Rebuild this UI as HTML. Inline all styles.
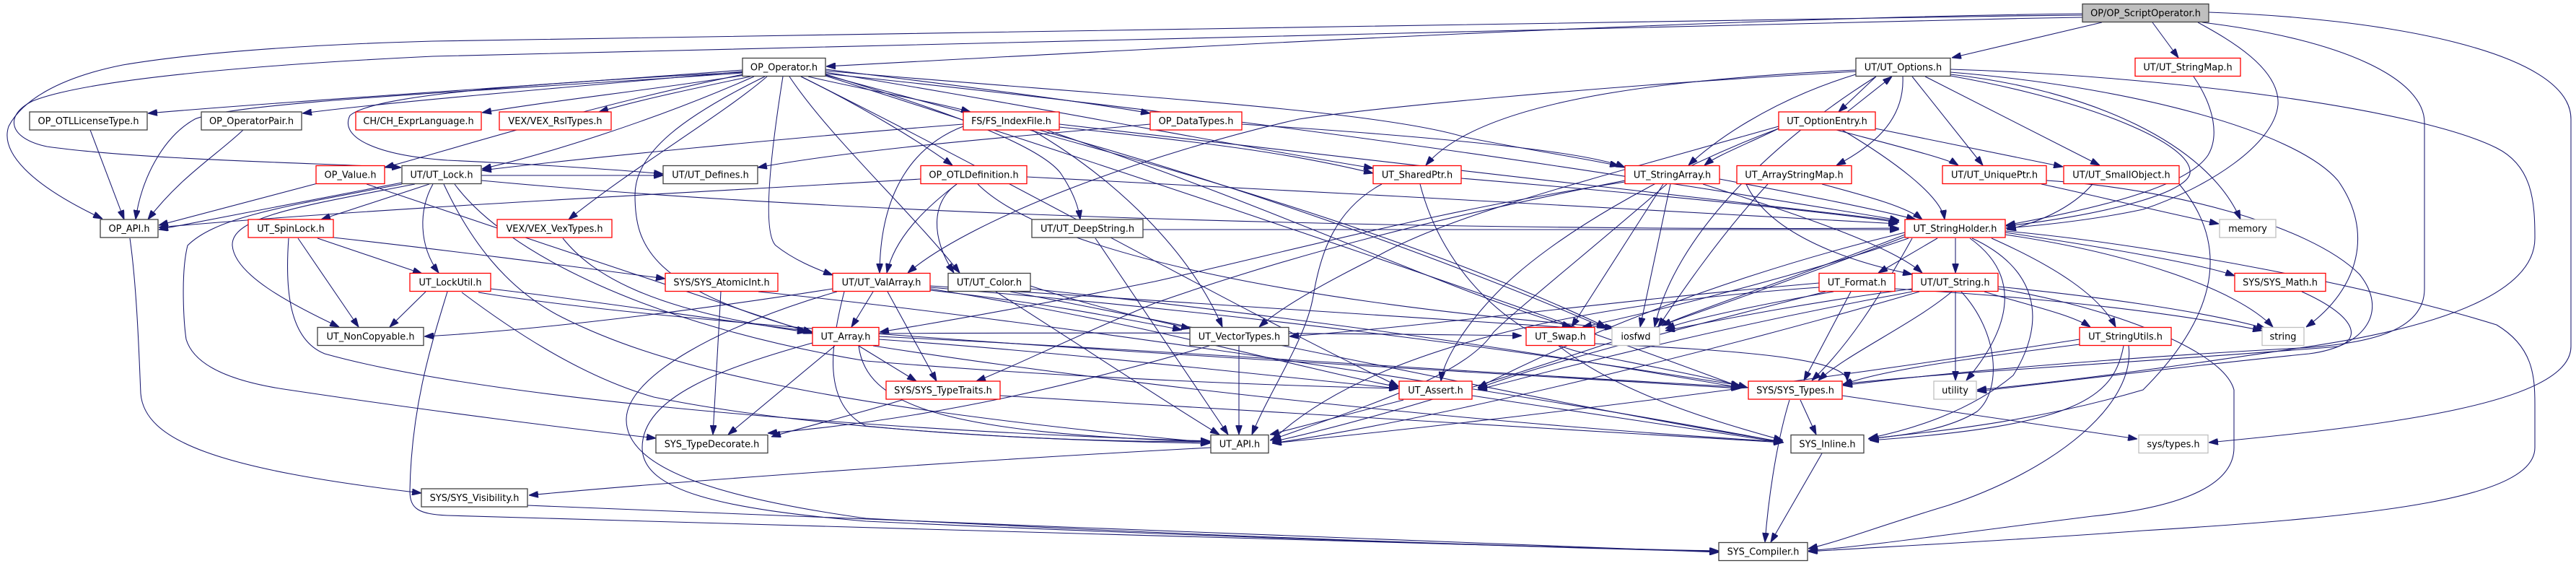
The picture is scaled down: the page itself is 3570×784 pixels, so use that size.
<!DOCTYPE html>
<html><head><meta charset="utf-8"><style>
html,body{margin:0;padding:0;background:#fff;}
svg{display:block;}
text{font-family:"DejaVu Sans","Liberation Sans",sans-serif;font-size:12.9px;fill:#000;text-anchor:middle;}
</style></head><body>
<svg width="3570" height="784" viewBox="0 0 3570 784" xmlns="http://www.w3.org/2000/svg">
<defs><marker id="a" viewBox="0 0 13 9" refX="13" refY="4.5" markerWidth="13" markerHeight="9" markerUnits="userSpaceOnUse" orient="auto"><path d="M0,0 L13,4.5 L0,9 z" fill="#191970" stroke="#191970" stroke-width="1"/></marker></defs>
<rect width="3570" height="784" fill="#fff"/>
<g fill="none" stroke="#191970" stroke-width="1.05" marker-end="url(#a)">
<!-- root -->
<path d="M2886,19 C2400,24 1700,62 1145,92"/>
<path d="M2913,31 L2705,80"/>
<path d="M2983,31 L3019,80"/>
<path d="M2886,21 C2000,30 1100,48 600,57 C350,64 230,80 170,90 C80,108 30,140 12,175 C0,210 40,255 142,303"/>
<path d="M2886,24 C2000,40 1100,62 600,78 C350,90 120,110 45,140 C5,160 12,192 65,203 C200,222 450,226 556,232"/>
<path d="M3046,31 C3090,55 3160,95 3157,145 C3152,200 3060,260 2970,290 C2900,305 2830,312 2780,316"/>
<path d="M3052,31 C3250,55 3360,110 3360,170 L3360,400 C3360,460 3280,478 3170,483 C2950,495 2700,515 2554,534"/>
<path d="M3061,17 C3300,25 3563,70 3563,165 L3563,480 C3563,560 3300,590 3061,613"/>
<!-- OP_Operator -->
<path d="M1029,97 C800,115 400,140 205,157"/>
<path d="M1029,99 C800,120 550,140 419,157"/>
<path d="M1032,104 C900,125 760,140 668,156"/>
<path d="M1040,106 C950,125 880,140 830,155"/>
<path d="M1030,103 C800,150 600,215 533,232"/>
<path d="M1045,106 C900,170 750,215 668,234"/>
<path d="M1029,100 C750,115 520,130 485,160 C470,190 520,215 620,222 C750,228 870,236 919,241"/>
<path d="M1029,101 C700,125 330,140 270,165 C225,190 195,250 188,304"/>
<path d="M1063,106 C1000,160 880,230 788,304"/>
<path d="M1120,106 C1200,125 1290,140 1345,155"/>
<path d="M1144,96 C1300,115 1500,140 1594,157"/>
<path d="M1110,106 C1200,150 1280,200 1320,229"/>
<path d="M1144,103 C1300,150 1440,200 1470,240 C1490,270 1495,290 1497,304"/>
<path d="M1085,106 C1070,200 1055,320 1075,340 C1100,360 1130,372 1154,381"/>
<path d="M1094,106 C1150,190 1260,290 1330,378"/>
<path d="M1060,106 C950,160 880,210 880,270 C880,340 900,400 1126,460"/>
<path d="M1144,100 C1450,150 1700,200 1903,233"/>
<path d="M1144,98 C1500,130 1900,150 2030,190 C2130,210 2200,220 2244,230"/>
<path d="M1144,102 C1800,170 2300,250 2632,305"/>
<path d="M1144,104 C1500,200 1900,300 2226,453"/>
<path d="M1144,105 C1600,250 2100,420 2412,536"/>
<path d="M1110,106 C1400,250 1700,420 1938,535"/>
<!-- UT_Options -->
<path d="M2600,106 L2548,155"/>
<path d="M2560,155 L2622,106"/>
<path d="M2650,106 L2748,229"/>
<path d="M2668,106 L2910,229"/>
<path d="M2637,106 C2640,170 2590,205 2545,229"/>
<path d="M2572,103 C2450,140 2370,200 2340,229"/>
<path d="M2572,97 C2300,110 2050,140 1976,229"/>
<path d="M2703,103 C2900,125 3060,200 3105,304"/>
<path d="M2703,100 C2950,120 3180,180 3240,250 C3290,320 3270,400 3196,453"/>
<path d="M2703,96 C3000,105 3350,150 3460,205 C3510,230 3513,280 3513,330 C3513,400 3400,450 3200,480 C3000,510 2850,530 2740,540"/>
<path d="M2572,99 C2200,120 1900,150 1800,165 C1600,210 1350,300 1258,378"/>
<path d="M2600,106 C2450,200 2320,330 2293,453"/>
<path d="M2703,105 C2900,140 3040,200 3035,240 C3030,270 2900,300 2780,313"/>
<path d="M2779,320 C3000,340 3300,400 3460,450 C3510,480 3513,520 3513,560 L3513,620 C3513,690 3300,715 2970,735 C2800,748 2600,758 2506,764"/>
<path d="M2836,250 C3000,260 3200,310 3270,380 C3310,430 3280,480 3200,490 C3000,510 2850,530 2740,542"/>
<!-- OptionEntry -->
<path d="M2545,180 C2620,200 2700,220 2714,229"/>
<path d="M2599,178 L2859,231"/>
<path d="M2553,180 C2620,220 2690,270 2695,304"/>
<path d="M2465,178 C2420,200 2380,215 2362,229"/>
<path d="M2465,178 C2300,240 2150,330 2080,400 C2030,450 2000,500 1997,528"/>
<path d="M2465,175 C2200,250 2000,300 1900,360 C1820,400 1770,430 1745,453"/>
<path d="M2252,250 C2000,300 1800,350 1600,420 C1480,470 1400,510 1353,528"/>
<path d="M3040,106 C3070,150 3075,190 3060,215 C3030,260 2900,290 2780,312"/>
<!-- left cluster -->
<path d="M125,180 L172,304"/>
<path d="M337,180 C300,215 250,245 205,304"/>
<path d="M440,254 L220,312"/>
<path d="M508,255 C700,320 1000,420 1126,462"/>
<path d="M1276,248 C900,270 500,290 220,315"/>
<path d="M667,243 L919,243"/>
<path d="M595,255 L445,304"/>
<path d="M557,253 L220,318"/>
<path d="M600,255 C580,290 580,340 608,378"/>
<path d="M575,255 C420,285 320,300 322,340 C325,380 400,420 470,453"/>
<path d="M557,255 C400,285 300,300 260,340 C250,380 255,450 258,470 C270,510 330,530 400,540 C600,570 800,595 909,607"/>
<path d="M615,255 C650,330 700,400 780,440 C900,500 1100,560 1677,613"/>
<path d="M630,255 C700,350 900,450 1200,500 C1500,525 1800,535 1938,538"/>
<path d="M667,250 C1200,300 2000,320 2632,316"/>
<path d="M413,330 L497,453"/>
<path d="M440,330 L585,379"/>
<path d="M400,330 C395,400 400,470 450,490 C700,560 1300,600 1677,611"/>
<path d="M462,329 C650,350 800,370 922,386"/>
<path d="M590,404 L540,453"/>
<path d="M620,404 C600,470 570,560 568,680 C568,705 580,712 620,714 C1200,730 2000,755 2382,764"/>
<path d="M680,400 C850,420 1000,445 1118,458"/>
<path d="M663,405 C1000,460 1800,500 2412,538"/>
<path d="M640,405 C700,450 800,520 906,550 C1100,590 1400,610 1677,614"/>
<path d="M1154,400 C900,440 700,460 588,466"/>
<path d="M180,330 C190,400 193,500 195,545 C200,610 300,650 584,683"/>
<path d="M731,700 C1200,720 2000,750 2382,765"/>
<path d="M1678,620 C1300,640 900,670 733,686"/>
<path d="M780,330 C820,380 900,430 1118,460"/>
<path d="M999,404 L988,602"/>
<path d="M1051,404 C1500,450 2200,560 2472,613"/>
<!-- middle -->
<path d="M1594,172 C1400,190 1200,205 1050,232"/>
<path d="M1335,172 C1100,190 800,220 668,236"/>
<path d="M1335,175 C1270,200 1220,260 1219,378"/>
<path d="M1430,180 C1550,250 1650,350 1694,453"/>
<path d="M1468,176 C1700,200 1800,215 1903,240"/>
<path d="M1440,180 C1800,280 2100,400 2226,455"/>
<path d="M1450,180 C1800,300 2000,400 2178,453"/>
<path d="M1468,172 C1900,220 2300,270 2632,306"/>
<path d="M1721,172 C2000,190 2200,210 2252,232"/>
<path d="M1326,255 C1280,290 1240,330 1229,378"/>
<path d="M1326,255 C1290,280 1290,330 1322,378"/>
<path d="M1423,245 C1800,265 2300,290 2630,310"/>
<path d="M1355,255 C1450,350 1800,420 2237,454"/>
<path d="M1518,330 L1702,602"/>
<path d="M1584,318 C2000,320 2400,318 2632,318"/>
<path d="M1915,255 C1850,290 1830,350 1820,410 C1810,470 1760,540 1735,602"/>
<path d="M1968,255 C2000,380 2100,470 2200,490 C2300,510 2380,525 2422,537"/>
<path d="M2025,247 C2300,270 2500,290 2632,308"/>
<path d="M2305,255 L2178,453"/>
<path d="M2315,255 L2273,453"/>
<path d="M2360,255 C2500,300 2620,340 2664,378"/>
<path d="M2383,248 C2500,270 2600,290 2655,304"/>
<path d="M2252,252 C2000,290 1800,345 1600,390 C1400,430 1280,450 1219,460"/>
<path d="M2310,255 C2200,350 2100,430 2070,460 C2030,520 1900,560 1760,610"/>
<path d="M2525,255 C2580,270 2640,285 2664,304"/>
<path d="M2420,255 C2450,320 2550,360 2650,380"/>
<path d="M2450,255 C2380,330 2320,420 2298,453"/>
<path d="M2829,255 C2900,270 3000,295 3075,310"/>
<path d="M2900,255 C2870,290 2820,310 2781,318"/>
<path d="M3020,255 C3100,350 3060,450 2970,540 C2800,590 2650,600 2590,608"/>
<!-- StringHolder -->
<path d="M2685,330 L2603,378"/>
<path d="M2710,330 L2710,378"/>
<path d="M2730,330 C2800,380 2790,450 2725,527"/>
<path d="M2760,330 C2850,370 2910,410 2932,453"/>
<path d="M2779,325 C2950,350 3100,400 3150,453"/>
<path d="M2779,322 C2900,340 3050,365 3097,382"/>
<path d="M2733,330 C2820,370 2840,440 2790,520 C2730,570 2650,595 2590,607"/>
<path d="M2650,330 C2600,420 2560,480 2511,527"/>
<path d="M2645,330 C2500,380 2300,430 2193,453"/>
<path d="M2640,325 C2500,380 2350,430 2303,451"/>
<path d="M2640,322 C2400,380 2200,460 2048,537"/>
<path d="M2640,328 C2400,420 2000,560 1763,612"/>
<!-- Format / String -->
<path d="M2565,404 L2500,527"/>
<path d="M2541,404 C2450,420 2350,440 2308,455"/>
<path d="M2521,398 C2200,420 1900,480 1763,610"/>
<path d="M2626,400 C2800,410 3000,430 3135,458"/>
<path d="M2521,392 C2200,420 2000,450 1787,466"/>
<path d="M2530,404 C2350,450 2150,500 2048,538"/>
<path d="M2710,404 L2710,527"/>
<path d="M2705,404 C2650,450 2560,490 2520,527"/>
<path d="M2750,404 C2800,420 2870,435 2897,453"/>
<path d="M2718,404 C2770,460 2775,540 2740,570 C2700,595 2640,603 2589,608"/>
<path d="M2650,400 C2500,420 2400,440 2308,458"/>
<path d="M2650,404 C2400,450 2200,500 2048,540"/>
<path d="M2660,404 C2400,480 2000,580 1763,614"/>
<path d="M2769,400 C2900,420 3080,480 3096,540 L3096,620 C3096,680 3000,705 2900,715 C2700,740 2600,755 2506,763"/>
<path d="M2769,397 C2900,410 3050,430 3140,455"/>
<path d="M3190,404 C3270,440 3270,470 3240,480 C3000,500 2700,515 2554,532"/>
<!-- StringUtils -->
<path d="M2882,477 C2700,500 2600,515 2554,533"/>
<path d="M2943,479 C2930,550 2880,590 2591,610"/>
<path d="M2950,479 C2960,560 2850,650 2700,700 C2600,730 2550,750 2506,760"/>
<path d="M2882,470 C2500,530 2100,580 1763,614"/>
<!-- lower -->
<path d="M2495,554 L2517,602"/>
<path d="M2480,554 C2460,620 2450,700 2446,751"/>
<path d="M2553,548 L2962,608"/>
<path d="M2525,628 L2454,751"/>
<path d="M1945,554 L1760,602"/>
<path d="M2040,548 L2471,613"/>
<path d="M2210,476 C2400,485 2560,495 2560,528"/>
<path d="M2160,479 C2250,550 2400,590 2471,610"/>
<path d="M1190,479 L1270,528"/>
<path d="M1157,479 L1009,602"/>
<path d="M1190,479 C1200,560 1300,600 1677,612"/>
<path d="M1218,470 C1500,490 1750,520 1938,538"/>
<path d="M1218,466 C1700,490 2100,520 2412,536"/>
<path d="M1210,479 C1600,540 2100,590 2471,612"/>
<path d="M1126,475 C1000,510 890,550 890,620 C890,680 1000,705 1200,722 C1700,745 2200,760 2382,764"/>
<path d="M1218,462 C1600,460 1900,462 2109,465"/>
<path d="M1210,404 L1180,453"/>
<path d="M1230,404 L1298,528"/>
<path d="M1170,404 C1150,480 1140,560 1200,590 C1400,610 1600,612 1677,612"/>
<path d="M1289,400 C1600,450 1800,510 1938,536"/>
<path d="M1289,398 C1800,440 2200,500 2412,534"/>
<path d="M1289,396 C1700,420 1950,440 2178,454"/>
<path d="M1160,404 C1000,450 870,520 868,580 C866,650 1000,690 1200,718 C1700,745 2200,760 2382,763"/>
<path d="M1289,402 C1450,420 1550,440 1638,457"/>
<path d="M1428,396 C1500,420 1580,440 1650,455"/>
<path d="M1380,404 C1500,480 1620,560 1690,602"/>
<path d="M1428,400 C1900,450 2200,500 2412,537"/>
<path d="M1400,404 C1800,480 2200,570 2471,612"/>
<path d="M1717,479 L1717,602"/>
<path d="M1676,479 C1500,530 1300,580 1064,600"/>
<path d="M1250,554 C1200,570 1120,590 1069,605"/>
<path d="M1386,548 C1800,570 2200,600 2471,613"/>
</g>
<!-- nodes -->
<g stroke-width="1.3">
<rect x="2886" y="5.5" width="175" height="25" fill="#bfbfbf" stroke="#404040"/>
<rect x="1029" y="80.5" width="115" height="25" fill="#fff" stroke="#404040"/>
<rect x="2572" y="80.5" width="131" height="25" fill="#fff" stroke="#404040"/>
<rect x="2959" y="80.5" width="146" height="25" fill="#fff" stroke="#ff0000"/>
<rect x="41" y="155" width="163" height="25" fill="#fff" stroke="#404040"/>
<rect x="279" y="155" width="139" height="25" fill="#fff" stroke="#404040"/>
<rect x="493" y="155" width="174" height="25" fill="#fff" stroke="#ff0000"/>
<rect x="692" y="155" width="155" height="25" fill="#fff" stroke="#ff0000"/>
<rect x="1335" y="155" width="133" height="25" fill="#fff" stroke="#ff0000"/>
<rect x="1594" y="155" width="127" height="25" fill="#fff" stroke="#ff0000"/>
<rect x="2465" y="155" width="134" height="25" fill="#fff" stroke="#ff0000"/>
<rect x="438" y="229.5" width="95" height="25" fill="#fff" stroke="#ff0000"/>
<rect x="557" y="229.5" width="110" height="25" fill="#fff" stroke="#404040"/>
<rect x="919" y="229.5" width="131" height="25" fill="#fff" stroke="#404040"/>
<rect x="1276" y="229.5" width="147" height="25" fill="#fff" stroke="#ff0000"/>
<rect x="1903" y="229.5" width="122" height="25" fill="#fff" stroke="#ff0000"/>
<rect x="2252" y="229.5" width="131" height="25" fill="#fff" stroke="#ff0000"/>
<rect x="2407" y="229.5" width="159" height="25" fill="#fff" stroke="#ff0000"/>
<rect x="2692" y="229.5" width="144" height="25" fill="#fff" stroke="#ff0000"/>
<rect x="2860" y="229.5" width="160" height="25" fill="#fff" stroke="#ff0000"/>
<rect x="139" y="304" width="80" height="25" fill="#fff" stroke="#404040"/>
<rect x="344" y="304" width="118" height="25" fill="#fff" stroke="#ff0000"/>
<rect x="689" y="304" width="159" height="25" fill="#fff" stroke="#ff0000"/>
<rect x="1430" y="304" width="154" height="25" fill="#fff" stroke="#404040"/>
<rect x="2640" y="304" width="139" height="25" fill="#fff" stroke="#ff0000"/>
<rect x="3076" y="304" width="78" height="25" fill="#fff" stroke="#bfbfbf"/>
<rect x="568" y="378.5" width="112" height="25" fill="#fff" stroke="#ff0000"/>
<rect x="922" y="378.5" width="156" height="25" fill="#fff" stroke="#ff0000"/>
<rect x="1154" y="378.5" width="135" height="25" fill="#fff" stroke="#ff0000"/>
<rect x="1314" y="378.5" width="114" height="25" fill="#fff" stroke="#404040"/>
<rect x="2521" y="378.5" width="105" height="25" fill="#fff" stroke="#ff0000"/>
<rect x="2650" y="378.5" width="119" height="25" fill="#fff" stroke="#ff0000"/>
<rect x="3097" y="378.5" width="126" height="25" fill="#fff" stroke="#ff0000"/>
<rect x="440" y="453.5" width="147" height="25" fill="#fff" stroke="#404040"/>
<rect x="1126" y="453.5" width="92" height="25" fill="#fff" stroke="#ff0000"/>
<rect x="1649" y="453.5" width="137" height="25" fill="#fff" stroke="#404040"/>
<rect x="2115" y="453.5" width="95" height="25" fill="#fff" stroke="#ff0000"/>
<rect x="2234" y="453.5" width="66" height="25" fill="#fff" stroke="#bfbfbf"/>
<rect x="2882" y="453.5" width="127" height="25" fill="#fff" stroke="#ff0000"/>
<rect x="3135" y="453.5" width="58" height="25" fill="#fff" stroke="#bfbfbf"/>
<rect x="1228" y="528" width="158" height="25" fill="#fff" stroke="#ff0000"/>
<rect x="1939" y="528" width="101" height="25" fill="#fff" stroke="#ff0000"/>
<rect x="2423" y="528" width="130" height="25" fill="#fff" stroke="#ff0000"/>
<rect x="2680" y="528" width="59" height="25" fill="#fff" stroke="#bfbfbf"/>
<rect x="909" y="602.5" width="155" height="25" fill="#fff" stroke="#404040"/>
<rect x="1678" y="602.5" width="80" height="25" fill="#fff" stroke="#404040"/>
<rect x="2482" y="602.5" width="101" height="25" fill="#fff" stroke="#404040"/>
<rect x="2964" y="602.5" width="96" height="25" fill="#fff" stroke="#bfbfbf"/>
<rect x="584" y="677" width="147" height="25" fill="#fff" stroke="#404040"/>
<rect x="2382" y="751.5" width="123" height="25" fill="#fff" stroke="#404040"/>
</g>
<g>
<text x="2973.5" y="22.5">OP/OP_ScriptOperator.h</text>
<text x="1086.5" y="97.5">OP_Operator.h</text>
<text x="2637.5" y="97.5">UT/UT_Options.h</text>
<text x="3032" y="97.5">UT/UT_StringMap.h</text>
<text x="122.5" y="172">OP_OTLLicenseType.h</text>
<text x="348.5" y="172">OP_OperatorPair.h</text>
<text x="580" y="172">CH/CH_ExprLanguage.h</text>
<text x="769.5" y="172">VEX/VEX_RslTypes.h</text>
<text x="1401.5" y="172">FS/FS_IndexFile.h</text>
<text x="1657.5" y="172">OP_DataTypes.h</text>
<text x="2532" y="172">UT_OptionEntry.h</text>
<text x="485.5" y="246.5">OP_Value.h</text>
<text x="612" y="246.5">UT/UT_Lock.h</text>
<text x="984.5" y="246.5">UT/UT_Defines.h</text>
<text x="1349.5" y="246.5">OP_OTLDefinition.h</text>
<text x="1964" y="246.5">UT_SharedPtr.h</text>
<text x="2317.5" y="246.5">UT_StringArray.h</text>
<text x="2486.5" y="246.5">UT_ArrayStringMap.h</text>
<text x="2764" y="246.5">UT/UT_UniquePtr.h</text>
<text x="2940" y="246.5">UT/UT_SmallObject.h</text>
<text x="179" y="321">OP_API.h</text>
<text x="403" y="321">UT_SpinLock.h</text>
<text x="768.5" y="321">VEX/VEX_VexTypes.h</text>
<text x="1507" y="321">UT/UT_DeepString.h</text>
<text x="2709.5" y="321">UT_StringHolder.h</text>
<text x="3115" y="321">memory</text>
<text x="624" y="395.5">UT_LockUtil.h</text>
<text x="1000" y="395.5">SYS/SYS_AtomicInt.h</text>
<text x="1221.5" y="395.5">UT/UT_ValArray.h</text>
<text x="1371" y="395.5">UT/UT_Color.h</text>
<text x="2573.5" y="395.5">UT_Format.h</text>
<text x="2709.5" y="395.5">UT/UT_String.h</text>
<text x="3160" y="395.5">SYS/SYS_Math.h</text>
<text x="513.5" y="470.5">UT_NonCopyable.h</text>
<text x="1172" y="470.5">UT_Array.h</text>
<text x="1717.5" y="470.5">UT_VectorTypes.h</text>
<text x="2162.5" y="470.5">UT_Swap.h</text>
<text x="2267" y="470.5">iosfwd</text>
<text x="2945.5" y="470.5">UT_StringUtils.h</text>
<text x="3164" y="470.5">string</text>
<text x="1307" y="545">SYS/SYS_TypeTraits.h</text>
<text x="1989.5" y="545">UT_Assert.h</text>
<text x="2488" y="545">SYS/SYS_Types.h</text>
<text x="2709.5" y="545">utility</text>
<text x="986.5" y="619.5">SYS_TypeDecorate.h</text>
<text x="1718" y="619.5">UT_API.h</text>
<text x="2532.5" y="619.5">SYS_Inline.h</text>
<text x="3012" y="619.5">sys/types.h</text>
<text x="657.5" y="694">SYS/SYS_Visibility.h</text>
<text x="2443.5" y="768.5">SYS_Compiler.h</text>
</g>
</svg>
</body></html>
